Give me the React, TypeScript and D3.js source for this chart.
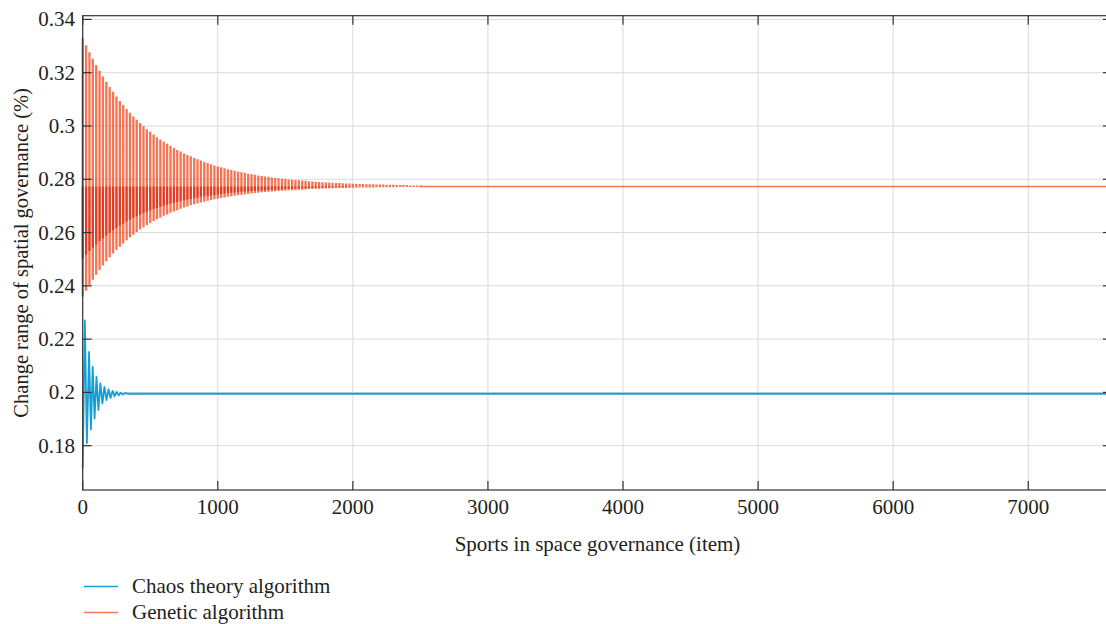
import React from 'react';
import * as d3 from 'd3';

// ---------- data ----------
const xTicks = [0, 1000, 2000, 3000, 4000, 5000, 6000, 7000];
const xTickLabels = ['0', '1000', '2000', '3000', '4000', '5000', '6000', '7000'];
const yTicks = [0.18, 0.2, 0.22, 0.24, 0.26, 0.28, 0.3, 0.32, 0.34];
const yTickLabels = ['0.18', '0.2', '0.22', '0.24', '0.26', '0.28', '0.3', '0.32', '0.34'];
const xDomain = [0, 7620];
const yDomain = [0.16337, 0.34139];

// Chaos theory algorithm: damped oscillation (peaks / troughs)
const chaosX = [0, 16, 31, 47, 61, 74, 88, 102, 116, 131, 146, 161, 176, 191, 206, 221, 236, 251, 266, 281, 296, 311, 340, 7620];
const chaosY = [0.1715, 0.227, 0.181, 0.2152, 0.1861, 0.2096, 0.1902, 0.2059, 0.1934, 0.2034, 0.1959, 0.2021, 0.1971, 0.2012,
  0.1979, 0.2006, 0.1985, 0.2002, 0.1989, 0.1999, 0.1992, 0.1997, 0.1995, 0.1995];

// Genetic algorithm: spikes every genStep items, top / bottom of each spike
const genStep = 25;
const genSettle = 0.2773;
const genHigh = [
  0.3330, 0.3303, 0.3277, 0.3252, 0.3229, 0.3207, 0.3186, 0.3166, 0.3146, 0.3128,
  0.3111, 0.3094, 0.3079, 0.3064, 0.3050, 0.3036, 0.3023, 0.3011, 0.2999, 0.2988,
  0.2978, 0.2968, 0.2958, 0.2949, 0.2941, 0.2933, 0.2925, 0.2917, 0.2910, 0.2904,
  0.2897, 0.2891, 0.2886, 0.2880, 0.2875, 0.2870, 0.2865, 0.2861, 0.2856, 0.2852,
  0.2848, 0.2845, 0.2841, 0.2838, 0.2835, 0.2832, 0.2829, 0.2826, 0.2824, 0.2821,
  0.2819, 0.2817, 0.2814, 0.2812, 0.2810, 0.2809, 0.2807, 0.2805, 0.2804, 0.2802,
  0.2801, 0.2799, 0.2798, 0.2797, 0.2796, 0.2795, 0.2794, 0.2793, 0.2792, 0.2791,
  0.2790, 0.2789, 0.2788, 0.2788, 0.2787, 0.2786, 0.2786, 0.2785, 0.2784, 0.2784,
  0.2783, 0.2783, 0.2782, 0.2782, 0.2781, 0.2781, 0.2781, 0.2780, 0.2780, 0.2780,
  0.2779, 0.2779, 0.2779, 0.2778, 0.2778, 0.2778, 0.2778, 0.2777, 0.2777, 0.2777,
  0.2777,
];
const genLow = [
  0.2360, 0.2382, 0.2403, 0.2423, 0.2442, 0.2459, 0.2476, 0.2492, 0.2507, 0.2521,
  0.2535, 0.2547, 0.2559, 0.2571, 0.2582, 0.2592, 0.2602, 0.2611, 0.2619, 0.2628,
  0.2635, 0.2643, 0.2650, 0.2656, 0.2663, 0.2668, 0.2674, 0.2679, 0.2684, 0.2689,
  0.2694, 0.2698, 0.2702, 0.2706, 0.2709, 0.2713, 0.2716, 0.2719, 0.2722, 0.2725,
  0.2727, 0.2730, 0.2732, 0.2734, 0.2736, 0.2738, 0.2740, 0.2742, 0.2743, 0.2745,
  0.2747, 0.2748, 0.2749, 0.2751, 0.2752, 0.2753, 0.2754, 0.2755, 0.2756, 0.2757,
  0.2758, 0.2759, 0.2759, 0.2760, 0.2761, 0.2761, 0.2762, 0.2763, 0.2763, 0.2764,
  0.2764, 0.2765, 0.2765, 0.2766, 0.2766, 0.2766, 0.2767, 0.2767, 0.2767, 0.2768,
  0.2768, 0.2768, 0.2769, 0.2769, 0.2769, 0.2769, 0.2769, 0.2770, 0.2770, 0.2770,
  0.2770, 0.2770, 0.2770, 0.2771, 0.2771, 0.2771, 0.2771, 0.2771, 0.2771, 0.2771,
  0.2771,
];
// denser (darker) inner band of the genetic oscillation
const genInnerLow = [
  0.2503, 0.2517, 0.2531, 0.2544, 0.2556, 0.2568, 0.2579, 0.2589, 0.2599, 0.2608,
  0.2617, 0.2626, 0.2633, 0.2641, 0.2648, 0.2655, 0.2661, 0.2667, 0.2673, 0.2678,
  0.2683, 0.2688, 0.2692, 0.2697, 0.2701, 0.2705, 0.2708, 0.2712, 0.2715, 0.2718,
  0.2721, 0.2724, 0.2726, 0.2729, 0.2731, 0.2734, 0.2736, 0.2738, 0.2739, 0.2741,
  0.2743, 0.2745, 0.2746, 0.2748, 0.2749, 0.2750, 0.2751, 0.2753, 0.2754, 0.2755,
  0.2756, 0.2757, 0.2758, 0.2758, 0.2759, 0.2760, 0.2761, 0.2761, 0.2762, 0.2762,
  0.2763, 0.2764, 0.2764, 0.2765, 0.2765, 0.2766, 0.2766, 0.2767, 0.2767, 0.2768,
  0.2768, 0.2768, 0.2769, 0.2769, 0.2769, 0.2770, 0.2770, 0.2770, 0.2770, 0.2771,
];

const seriesNames = ['Chaos theory algorithm', 'Genetic algorithm'];
const xTitle = 'Sports in space governance (item)';
const yTitle = 'Change range of spatial governance (%)';

// ---------- styles ----------
const FONT = '"Liberation Serif", "DejaVu Serif", serif';
const TEXT = '#231f20';
const BLUE = '#169fd4';
const ORANGE = '#f04418';

export default function App() {
  const W = 1106;
  const H = 624;
  const left = 82.7;
  const right = 1112;
  const top = 15.7;
  const bottom = 490;

  const x = d3.scaleLinear().domain(xDomain).range([left, right]);
  const y = d3.scaleLinear().domain(yDomain).range([bottom, top]);

  // genetic spikes
  const spikes = d3.path();
  genHigh.forEach((hv, i) => {
    const xv = x(i * genStep);
    spikes.moveTo(xv, y(genLow[i]));
    spikes.lineTo(xv, y(hv));
  });
  const inner = d3.path();
  genInnerLow.forEach((lv, i) => {
    const xv = x(i * genStep);
    inner.moveTo(xv, y(lv));
    inner.lineTo(xv, y(genSettle));
  });
  const genTail = d3.line<number>()
    .x((d) => x(d))
    .y(() => y(genSettle))([(genHigh.length - 1) * genStep, xDomain[1]]) as string;

  const chaosLine = d3.line<number>()
    .x((_, i) => x(chaosX[i]))
    .y((d) => y(d))(chaosY) as string;

  const tickLen = 9;
  const fs = 21;

  return (
    <svg width={W} height={H} style={{ position: 'absolute', left: 0, top: 0, background: '#fff' }}>
      <rect x={0} y={0} width={W} height={H} fill="#fff" />
      {/* grid */}
      <g stroke="#dadada" strokeWidth={1}>
        {xTicks.map((t) => (
          <line key={'gx' + t} x1={x(t)} x2={x(t)} y1={top} y2={bottom} />
        ))}
        {yTicks.map((t) => (
          <line key={'gy' + t} x1={left} x2={right} y1={y(t)} y2={y(t)} />
        ))}
      </g>

      {/* genetic algorithm */}
      <path d={spikes.toString()} stroke={ORANGE} strokeOpacity={0.74} strokeWidth={2.3} fill="none" />
      <path d={inner.toString()} stroke="#d41c06" strokeOpacity={0.62} strokeWidth={2.3} fill="none" />
      <path d={genTail} stroke={ORANGE} strokeOpacity={0.72} strokeWidth={1.5} fill="none" />

      {/* chaos theory algorithm */}
      <path d={chaosLine} stroke={BLUE} strokeWidth={1.8} fill="none" strokeLinejoin="round" />

      {/* frame */}
      <rect x={left} y={top} width={right - left} height={bottom - top} fill="none" stroke="#333" strokeWidth={1.2} />
      <g stroke="#333" strokeWidth={1.2}>
        {xTicks.map((t) => (
          <g key={'tx' + t}>
            <line x1={x(t)} x2={x(t)} y1={bottom} y2={bottom - tickLen} />
            <line x1={x(t)} x2={x(t)} y1={top} y2={top + tickLen} />
          </g>
        ))}
        {yTicks.map((t) => (
          <g key={'ty' + t}>
            <line x1={left} x2={left + tickLen} y1={y(t)} y2={y(t)} />
            <line x1={right} x2={right - tickLen} y1={y(t)} y2={y(t)} />
          </g>
        ))}
      </g>

      {/* tick labels */}
      <g fontFamily={FONT} fontSize={fs} fill={TEXT}>
        {xTicks.map((t, i) => (
          <text key={'lx' + t} x={x(t)} y={513.5} textAnchor="middle">{xTickLabels[i]}</text>
        ))}
        {yTicks.map((t, i) => (
          <text key={'ly' + t} x={75} y={y(t) + 7} textAnchor="end">{yTickLabels[i]}</text>
        ))}
      </g>

      {/* axis titles */}
      <text x={597.5} y={551} textAnchor="middle" fontFamily={FONT} fontSize={fs} fill={TEXT}>{xTitle}</text>
      <text transform={`translate(27.5, ${(top + bottom) / 2}) rotate(-90)`} textAnchor="middle" fontFamily={FONT} fontSize={20.5} fill={TEXT}>{yTitle}</text>

      {/* legend */}
      <g fontFamily={FONT} fontSize={fs} fill={TEXT}>
        <line x1={84} x2={118} y1={586.5} y2={586.5} stroke={BLUE} strokeWidth={1.5} />
        <text x={132} y={593}>{seriesNames[0]}</text>
        <line x1={84} x2={118} y1={612.5} y2={612.5} stroke={ORANGE} strokeOpacity={0.72} strokeWidth={1.5} />
        <text x={132} y={619}>{seriesNames[1]}</text>
      </g>
    </svg>
  );
}
